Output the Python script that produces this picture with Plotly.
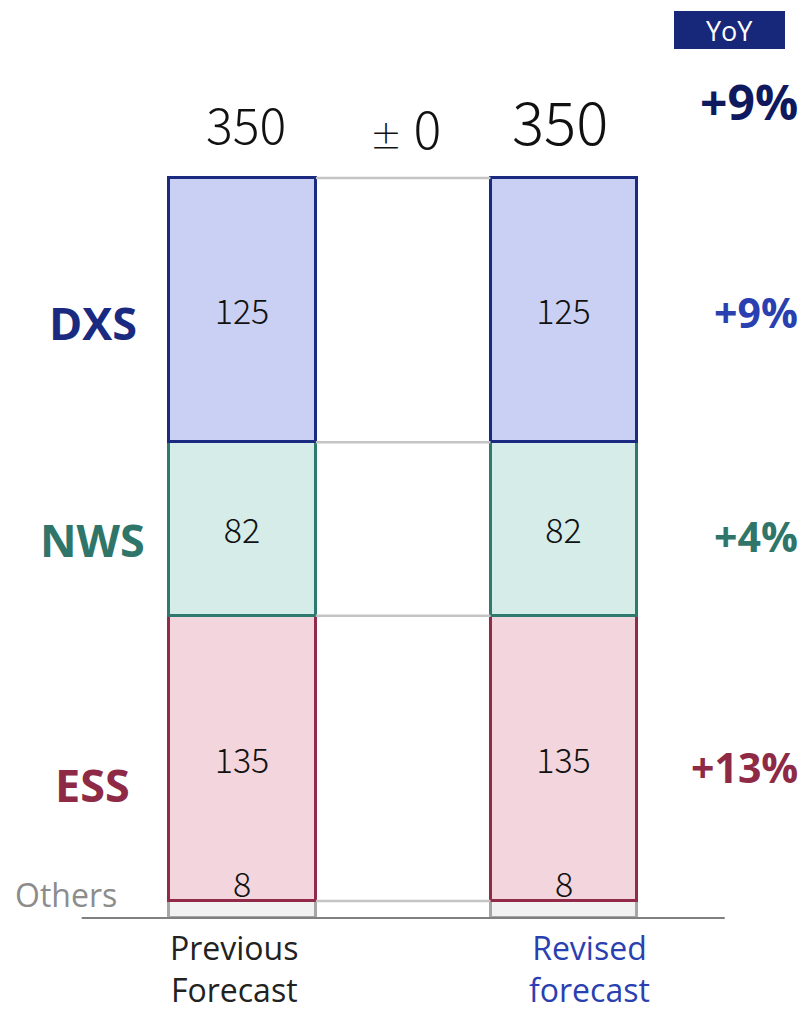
import plotly.graph_objects as go

# segments bottom -> top
segments = ["Others", "ESS", "NWS", "DXS"]
previous = [8, 135, 82, 125]
revised = [8, 135, 82, 125]
periods = ["Previous<br>Forecast", "Revised<br>forecast"]
yoy = {"ESS": "+13%", "NWS": "+4%", "DXS": "+9%"}
yoy_total = "+9%"
change_text = "±0"

fills = {"Others": "#f2f2f2", "ESS": "#f2d5dd", "NWS": "#d5ece9", "DXS": "#cad0f3"}
lines = {"Others": "#a6a6a6", "ESS": "#922b49", "NWS": "#2f7a6f", "DXS": "#1a2a80"}
label_cols = {"ESS": "#8e2a45", "NWS": "#2f7569", "DXS": "#1a2a80"}
yoy_cols = {"ESS": "#8e2a45", "NWS": "#2f7569", "DXS": "#2a3fb0"}

xs = [0, 1]
bw = 0.457
num_font = "Noto Sans CJK JP"
lab_font = "Open Sans"

fig = go.Figure()
for i, s in enumerate(segments):
    vals = [previous[i], revised[i]]
    fig.add_trace(go.Bar(
        x=xs, y=vals, width=bw, name=s,
        marker=dict(color=fills[s], line=dict(color=lines[s], width=3)),
        text=[str(v) for v in vals] if s != "Others" else None,
        textposition="inside", insidetextanchor="middle",
        textfont=dict(family=num_font, size=34, color="#111111", weight=300),
        showlegend=False, hoverinfo="skip"))

# connector lines between the bars at each cumulative level
cum = 0
for i, s in enumerate(segments):
    cum += previous[i]
    fig.add_trace(go.Scatter(
        x=[xs[0] + bw / 2, xs[1] - bw / 2], y=[cum, cum], mode="lines",
        line=dict(color="#c4c4c4", width=2.5), showlegend=False, hoverinfo="skip"))

# others labels above the small segment
for x, v in zip(xs, [previous[0], revised[0]]):
    fig.add_annotation(x=x, y=v, text=str(v), showarrow=False, yanchor="bottom",
                       yshift=-8, font=dict(family=num_font, size=34, color="#111111", weight=300))

# totals
tot_prev = sum(previous)
tot_rev = sum(revised)
fig.add_annotation(x=xs[0], y=tot_prev, text=str(tot_prev), showarrow=False, yanchor="bottom",
                   xshift=4, yshift=18, font=dict(family=num_font, size=50, color="#111111", weight=300))
fig.add_annotation(x=xs[1], y=tot_rev, text=str(tot_rev), showarrow=False, yanchor="bottom",
                   xshift=-4, yshift=14, font=dict(family=num_font, size=60, color="#111111", weight=300))
fig.add_annotation(x=0.5, y=tot_rev, text="<span style='font-size:32px'>±</span> 0", showarrow=False,
                   yanchor="bottom", xshift=2, yshift=12,
                   font=dict(family=num_font, size=52, color="#111111", weight=300))

# category labels and yoy
cum = 0
shifts = {"Others": 0, "ESS": -26, "NWS": -10, "DXS": -12}
yoy_shifts = {"ESS": -9, "NWS": -7, "DXS": -2}
for i, s in enumerate(segments):
    mid = cum + previous[i] / 2
    cum += previous[i]
    if s == "Others":
        fig.add_annotation(x=-0.55, y=0, text="Others", showarrow=False, yanchor="bottom",
                           yshift=0, font=dict(family=lab_font, size=32, color="#8c8c8c"))
        continue
    fig.add_annotation(x=-0.465, y=mid, text="<b>" + s + "</b>", showarrow=False,
                       yshift=shifts[s], font=dict(family=lab_font, size=45, color=label_cols[s]))
    fig.add_annotation(x=1.735, y=mid, text="<b>" + yoy[s] + "</b>", showarrow=False,
                       xanchor="right", yshift=yoy_shifts[s],
                       font=dict(family=lab_font, size=41, color=yoy_cols[s]))

fig.add_annotation(x=1.735, y=tot_rev, text="<b>" + yoy_total + "</b>", showarrow=False,
                   xanchor="right", yanchor="bottom", yshift=42,
                   font=dict(family=lab_font, size=48, color="#0f1a5e"))

# YoY header box
fig.add_shape(type="rect", xref="paper", yref="paper", x0=674 / 804, x1=785 / 804,
              y0=1 - 49 / 1010, y1=1 - 11 / 1010, fillcolor="#17277a", line_width=0)
fig.add_annotation(xref="paper", yref="paper", x=729.5 / 804, y=1 - 30 / 1010, text="YoY",
                   xanchor="center", yanchor="middle",
                   showarrow=False, font=dict(family=lab_font, size=27, color="white"))

# baseline
fig.add_shape(type="line", x0=-0.5, x1=1.5, y0=0, y1=0, line=dict(color="#808080", width=2))

# period labels
fig.add_annotation(x=xs[0], y=0, text="Previous<br>Forecast", showarrow=False, yanchor="top",
                   yshift=-6, xshift=-8, font=dict(family=lab_font, size=32, color="#222222"))
fig.add_annotation(x=xs[1], y=0, text="Revised<br>forecast", showarrow=False, yanchor="top",
                   yshift=-6, xshift=26, font=dict(family=lab_font, size=32, color="#2a3fb0"))

fig.update_layout(
    width=804, height=1010, barmode="stack", bargap=0,
    margin=dict(l=0, r=0, t=0, b=0),
    plot_bgcolor="white", paper_bgcolor="white",
    xaxis=dict(range=[-0.754, 1.7465], visible=False),
    yaxis=dict(range=[-43.5, 434.2], visible=False),
)

fig.write_html("out.html", config={"displayModeBar": False},
               post_script="document.body.style.margin='0';document.body.style.overflow='hidden';")
